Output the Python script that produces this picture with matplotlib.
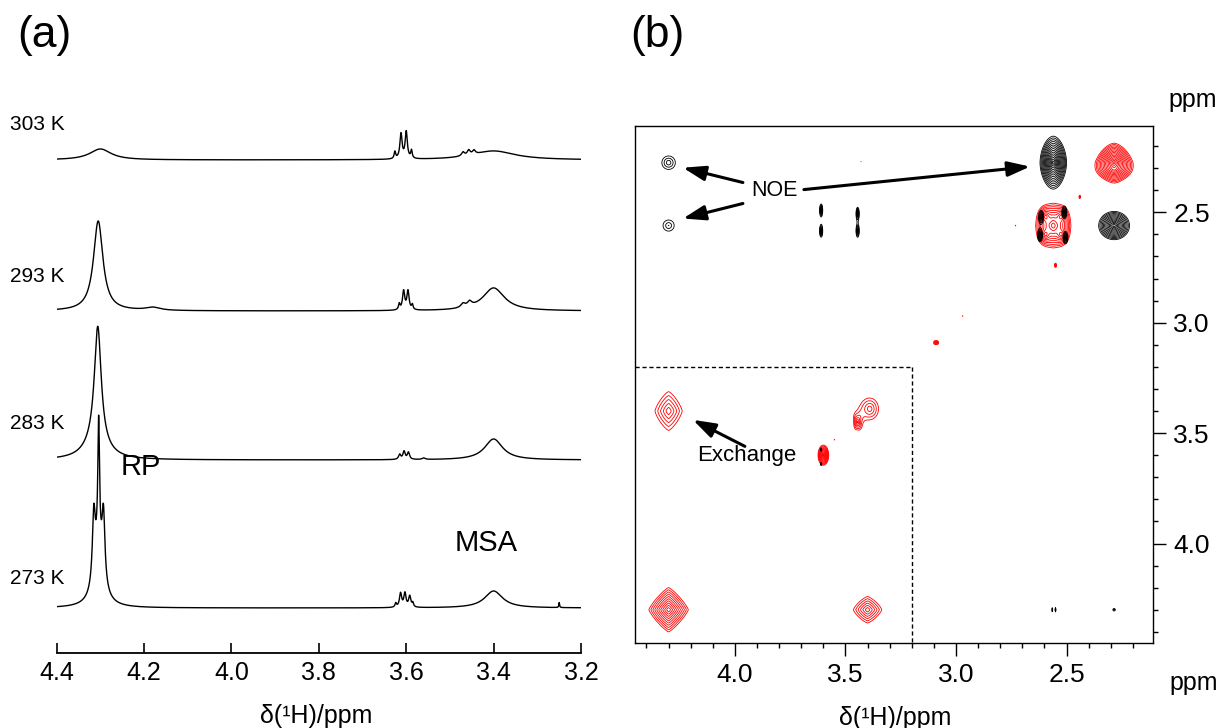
import numpy as np
import matplotlib.pyplot as plt
from matplotlib.ticker import MultipleLocator

plt.rcParams['font.family'] = ['Liberation Sans', 'DejaVu Sans']

W, H = 1228, 728


def fx(x):
    return x / W


def fy(y):
    return 1 - y / H


# ---------------- (a) 1D spectra: peak tables ----------------
temps = ['303 K', '293 K', '283 K', '273 K']

# shift (ppm), height (px above baseline), half width (ppm)
pos_303 = [4.300, 3.626, 3.612, 3.600, 3.588, 3.470, 3.457, 3.445, 3.400]
h_303 = [11, 7, 25, 27, 8, 4, 5, 4, 9]
hw_303 = [0.030, 0.002, 0.003, 0.003, 0.002, 0.004, 0.004, 0.004, 0.060]

pos_293 = [4.305, 4.180, 3.616, 3.606, 3.596, 3.586, 3.470, 3.455, 3.400]
h_293 = [90, 3, 6, 19, 19, 5, 4, 5, 23]
hw_293 = [0.013, 0.020, 0.002, 0.003, 0.003, 0.002, 0.006, 0.006, 0.030]

pos_283 = [4.306, 4.310, 3.615, 3.605, 3.595, 3.560, 3.400]
h_283 = [118, 16, 5, 8, 7, 1.5, 21]
hw_283 = [0.0095, 0.030, 0.003, 0.003, 0.003, 0.004, 0.025]

pos_273 = [4.315, 4.304, 4.293, 4.304, 4.304, 3.624, 3.613, 3.603, 3.592, 3.585, 3.400, 3.250]
h_273 = [68, 119, 68, 50, 8, 4, 14, 14, 11, 4, 17, 5]
hw_273 = [0.004, 0.0022, 0.004, 0.010, 0.025, 0.002, 0.003, 0.003, 0.003, 0.002, 0.025, 0.001]

peak_tables = [(pos_303, h_303, hw_303), (pos_293, h_293, hw_293),
               (pos_283, h_283, hw_283), (pos_273, h_273, hw_273)]

# ---------------- (b) 2D map: cross peaks (F2, F1, amplitude, widths, shape) ----------------
red_x = [4.30, 3.40, 4.30, 3.39, 3.445, 3.60, 3.55, 3.09, 2.97, 2.285, 2.285,
         2.56, 2.595, 2.525, 2.595, 2.525, 2.44, 2.73, 2.55, 2.29, 3.61, 3.445]
red_y = [4.30, 4.30, 3.40, 3.39, 3.45, 3.60, 3.53, 3.09, 2.97, 2.275, 2.305,
         2.56, 2.52, 2.52, 2.60, 2.60, 2.43, 2.56, 2.74, 2.42, 2.50, 2.51]
red_a = [9.3, 3.8, 3.0, 2.4, 3.0, 14.5, 1.3, 3.0, 1.3, 26.0, 5.0,
         8.0, 6.0, 6.0, 6.0, 6.0, 1.8, 1.3, 2.0, 1.2, 1.5, 1.5]
red_wx = [0.040, 0.048, 0.056, 0.045, 0.012, 0.009, 0.004, 0.010, 0.005, 0.024, 0.035,
          0.030, 0.016, 0.016, 0.016, 0.016, 0.006, 0.003, 0.006, 0.003, 0.004, 0.004]
red_wy = [0.045, 0.045, 0.080, 0.055, 0.025, 0.017, 0.008, 0.008, 0.005, 0.027, 0.018,
          0.040, 0.022, 0.022, 0.022, 0.022, 0.012, 0.008, 0.012, 0.003, 0.008, 0.008]
red_p = [1.2, 1.3, 1.3, 2, 3, 2, 2, 3, 2, 1.6, 2,
         1.5, 2, 2, 2, 2, 2, 2, 2, 2, 2, 2]

blk_x = [4.30, 4.30, 2.56, 2.285, 2.615, 2.51, 2.62, 2.505, 3.61, 3.61,
         3.445, 3.445, 3.43, 3.61, 3.61, 2.565, 2.55, 2.285, 2.56, 2.50]
blk_y = [2.275, 2.56, 2.275, 2.56, 2.52, 2.50, 2.605, 2.615, 2.49, 2.585,
         2.505, 2.585, 2.27, 3.575, 3.64, 4.30, 4.30, 4.30, 3.45, 3.60]
blk_a = [1.95, 1.6, 28.0, 18.2, 4.0, 4.0, 4.0, 4.0, 4.0, 4.0,
         4.0, 4.0, 1.3, 2.0, 2.0, 1.6, 1.6, 1.6, 1.3, 1.3]
blk_wx = [0.045, 0.053, 0.018, 0.024, 0.008, 0.008, 0.008, 0.008, 0.005, 0.005,
          0.005, 0.005, 0.003, 0.004, 0.004, 0.004, 0.004, 0.012, 0.002, 0.002]
blk_wy = [0.045, 0.053, 0.036, 0.022, 0.020, 0.020, 0.020, 0.020, 0.020, 0.020,
          0.020, 0.020, 0.006, 0.010, 0.010, 0.020, 0.020, 0.012, 0.008, 0.008]
blk_p = [2, 2, 1.8, 2, 2, 2, 2, 2, 2, 2,
         2, 2, 2, 2, 2, 2, 2, 2, 2, 2]

region_edge = 3.2  # dashed box (4.3/3.4 exchange region)


def spectrum(ppm, pos, h, hw):
    y = np.zeros_like(ppm)
    for p, a, w in zip(pos, h, hw):
        y += a / (1 + ((ppm - p) / w) ** 2)
    return y


def field(X, Y, xs, ys, amps, wxs, wys, ps):
    Z = np.zeros_like(X)
    for x0, y0, a, wx, wy, p in zip(xs, ys, amps, wxs, wys, ps):
        r = (np.abs((X - x0) / wx) ** p + np.abs((Y - y0) / wy) ** p) ** (1 / p)
        Z += a * np.exp(-r)
    return Z


fig = plt.figure(figsize=(W / 100, H / 100), dpi=100)

# ---------------- panel (a) ----------------
ax1 = fig.add_axes([fx(56.7), fy(652.7), fx(581 - 56.7), (652.7 - 90) / H])
ppm = np.linspace(4.4, 3.2, 6000)
offsets = [492.7, 341.7, 192.7, 44.7]
for (pos, h, hw), off in zip(peak_tables, offsets):
    ax1.plot(ppm, off + spectrum(ppm, pos, h, hw), color='k', lw=1.0)
ax1.set_xlim(4.4, 3.2)
ax1.set_ylim(0, 652.7 - 90)
for s in ['left', 'right', 'top']:
    ax1.spines[s].set_visible(False)
ax1.spines['bottom'].set_linewidth(1.3)
ax1.set_yticks([])
ax1.set_xticks(np.arange(3.2, 4.41, 0.2))
ax1.xaxis.set_major_formatter(plt.FormatStrFormatter('%.1f'))
ax1.tick_params(axis='x', direction='in', length=7, width=1.2, labelsize=18, pad=6)

label_y = [125, 277, 423, 578]
for t, ly in zip(temps, label_y):
    fig.text(fx(10), fy(ly), t, fontsize=15, ha='left', va='center')
fig.text(fx(141), fy(467), 'RP', fontsize=21, ha='center', va='center')
fig.text(fx(486), fy(543), 'MSA', fontsize=21, ha='center', va='center')
fig.text(fx(316), fy(716), 'δ(¹H)/ppm', fontsize=18, ha='center', va='center')
fig.text(fx(44), fy(36), '(a)', fontsize=32, ha='center', va='center')

# ---------------- panel (b) ----------------
ax2 = fig.add_axes([fx(635), fy(643.3), fx(1153 - 635), (643.3 - 126) / H])
lo, hi = 2.109, 4.452
g = np.linspace(lo, hi, 1000)
X, Y = np.meshgrid(g, g)
Zr = field(X, Y, red_x, red_y, red_a, red_wx, red_wy, red_p)
Zb = field(X, Y, blk_x, blk_y, blk_a, blk_wx, blk_wy, blk_p)
levels = 1.25 ** np.arange(0, 20)
ax2.contour(X, Y, Zr, levels=levels, colors='red', linewidths=0.6)
ax2.contour(X, Y, Zb, levels=levels, colors='black', linewidths=0.6)

ax2.plot([hi, region_edge], [region_edge, region_edge], color='k', lw=1, ls=(0, (3, 2)))
ax2.plot([region_edge, region_edge], [region_edge, hi], color='k', lw=1, ls=(0, (3, 2)))

ax2.set_xlim(hi, lo)
ax2.set_ylim(hi, lo)
ax2.yaxis.tick_right()
ax2.xaxis.set_major_locator(MultipleLocator(0.5))
ax2.xaxis.set_minor_locator(MultipleLocator(0.1))
ax2.yaxis.set_major_locator(MultipleLocator(0.5))
ax2.yaxis.set_minor_locator(MultipleLocator(0.1))
ax2.xaxis.set_major_formatter(plt.FormatStrFormatter('%.1f'))
ax2.yaxis.set_major_formatter(plt.FormatStrFormatter('%.1f'))
ax2.tick_params(which='major', direction='out', length=9.5, width=1, labelsize=19, pad=5)
ax2.tick_params(which='minor', direction='out', length=3.5, width=1)
for s in ax2.spines.values():
    s.set_linewidth(1)

arrow = dict(arrowstyle='-|>,head_length=0.9,head_width=0.3', lw=2.2, color='k',
             shrinkA=0, shrinkB=0, mutation_scale=15)
ax2.text(3.82, 2.40, 'NOE', fontsize=15.5, ha='center', va='center')
ax2.annotate('', xy=(4.235, 2.298), xytext=(3.964, 2.365), arrowprops=arrow)
ax2.annotate('', xy=(4.235, 2.528), xytext=(3.964, 2.46), arrowprops=arrow)
ax2.annotate('', xy=(2.665, 2.293), xytext=(3.688, 2.397), arrowprops=arrow)
ax2.text(3.946, 3.60, 'Exchange', fontsize=16, ha='center', va='center')
ax2.annotate('', xy=(4.19, 3.44), xytext=(3.955, 3.56), arrowprops=arrow)

fig.text(fx(1193), fy(100), 'ppm', fontsize=18, ha='center', va='center')
fig.text(fx(1194), fy(683), 'ppm', fontsize=18, ha='center', va='center')
fig.text(fx(895), fy(718), 'δ(¹H)/ppm', fontsize=18, ha='center', va='center')
fig.text(fx(657), fy(36), '(b)', fontsize=32, ha='center', va='center')

fig.savefig('out.png', dpi=100)
